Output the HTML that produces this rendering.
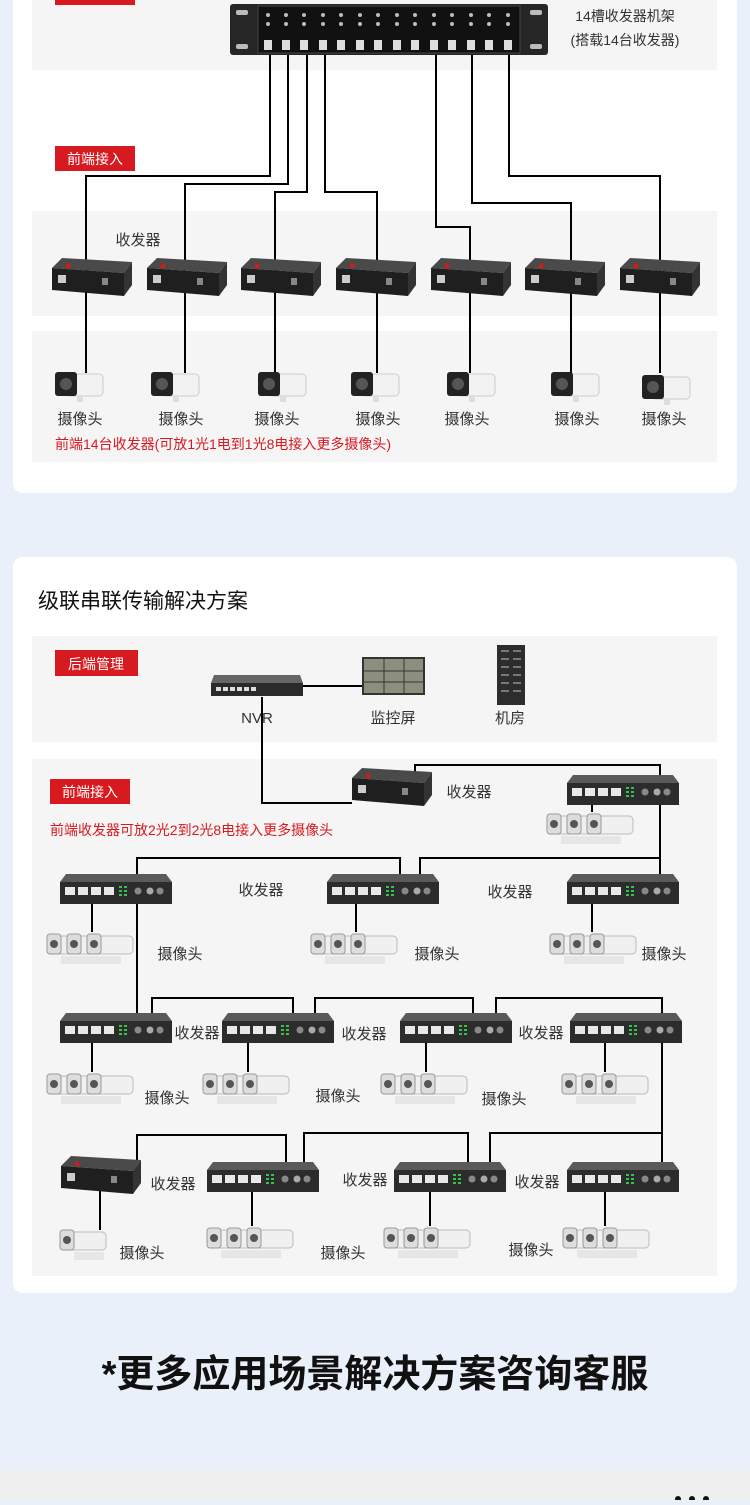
<!DOCTYPE html>
<html><head><meta charset="utf-8"><style>
html,body{margin:0;padding:0;}
body{width:750px;height:1500px;background:#e9f0f9;overflow:hidden;font-family:"Liberation Sans","Noto Sans CJK SC",sans-serif;}
svg text{font-family:"Liberation Sans","Noto Sans CJK SC",sans-serif;}
</style></head><body>
<svg width="750" height="1500" viewBox="0 0 750 1500" xmlns="http://www.w3.org/2000/svg">
<defs>
<g id="sw">
<polygon points="6,0 106,0 112,8 0,8" fill="#5a5a5a"/>
<rect x="0" y="8" width="112" height="22" fill="#2c2c2c"/>
<g fill="#e8e8e8"><rect x="5" y="13" width="10" height="8"/><rect x="18" y="13" width="10" height="8"/><rect x="31" y="13" width="10" height="8"/><rect x="44" y="13" width="10" height="8"/></g>
<g fill="#39c24a"><rect x="59" y="12" width="3" height="2"/><rect x="59" y="16" width="3" height="2"/><rect x="59" y="20" width="3" height="2"/><rect x="64" y="12" width="3" height="2"/><rect x="64" y="16" width="3" height="2"/><rect x="64" y="20" width="3" height="2"/></g>
<circle cx="78" cy="17" r="3.5" fill="#888"/><circle cx="90" cy="17" r="3.5" fill="#aaa"/><circle cx="100" cy="17" r="3.5" fill="#888"/>
</g>
<g id="tr">
<polygon points="10,0 80,4 72,15 0,10" fill="#4a4a4a"/>
<polygon points="0,10 72,15 72,38 0,32" fill="#1f1f1f"/>
<polygon points="72,15 80,4 80,27 72,38" fill="#333"/>
<circle cx="16" cy="8" r="2.5" fill="#d21b1b"/>
<rect x="6" y="17" width="8" height="8" fill="#ccc"/><rect x="50" y="20" width="6" height="7" fill="#888"/>
</g>
<g id="cam">
<rect x="10" y="2" width="38" height="22" rx="4" fill="#f2f2f2" stroke="#ccc"/>
<rect x="0" y="0" width="22" height="24" rx="3" fill="#222"/>
<circle cx="11" cy="12" r="6" fill="#555"/>
<rect x="22" y="24" width="6" height="6" fill="#ddd"/>
</g>
<g id="cam3">
<g transform="translate(0,0)"><rect x="6" y="4" width="40" height="18" rx="4" fill="#f0f0f0" stroke="#bbb"/><rect x="0" y="2" width="14" height="20" rx="3" fill="#ddd" stroke="#999"/><circle cx="7" cy="12" r="4" fill="#555"/></g>
<g transform="translate(20,0)"><rect x="6" y="4" width="40" height="18" rx="4" fill="#f0f0f0" stroke="#bbb"/><rect x="0" y="2" width="14" height="20" rx="3" fill="#ddd" stroke="#999"/><circle cx="7" cy="12" r="4" fill="#555"/></g>
<g transform="translate(40,0)"><rect x="6" y="4" width="40" height="18" rx="4" fill="#f0f0f0" stroke="#bbb"/><rect x="0" y="2" width="14" height="20" rx="3" fill="#ddd" stroke="#999"/><circle cx="7" cy="12" r="4" fill="#555"/></g>
<rect x="14" y="24" width="60" height="8" fill="#e6e6e6"/>
</g>
</defs>

<!-- card 1 -->
<rect x="13" y="-20" width="724" height="513" rx="10" fill="#fff"/>
<rect x="32" y="0" width="685" height="70" fill="#f5f5f5"/>
<rect x="32" y="211" width="685" height="105" fill="#f5f5f5"/>
<rect x="32" y="331" width="685" height="131" fill="#f5f5f5"/>
<rect x="55" y="0" width="80" height="5" fill="#d71920"/>

<!-- rack -->
<rect x="230" y="4" width="318" height="51" rx="3" fill="#262626"/>
<g fill="#111" stroke="#444">
<rect x="258" y="6" width="262" height="47"/>
</g>
<g fill="#ddd">
<rect x="264" y="40" width="8" height="10"/><rect x="282" y="40" width="8" height="10"/><rect x="300" y="40" width="8" height="10"/><rect x="319" y="40" width="8" height="10"/><rect x="337" y="40" width="8" height="10"/><rect x="356" y="40" width="8" height="10"/><rect x="374" y="40" width="8" height="10"/><rect x="393" y="40" width="8" height="10"/><rect x="411" y="40" width="8" height="10"/><rect x="430" y="40" width="8" height="10"/><rect x="448" y="40" width="8" height="10"/><rect x="467" y="40" width="8" height="10"/><rect x="485" y="40" width="8" height="10"/><rect x="504" y="40" width="8" height="10"/>
</g>
<g fill="#bbb">
<circle cx="268" cy="15" r="2"/><circle cx="286" cy="15" r="2"/><circle cx="304" cy="15" r="2"/><circle cx="323" cy="15" r="2"/><circle cx="341" cy="15" r="2"/><circle cx="360" cy="15" r="2"/><circle cx="378" cy="15" r="2"/><circle cx="397" cy="15" r="2"/><circle cx="415" cy="15" r="2"/><circle cx="434" cy="15" r="2"/><circle cx="452" cy="15" r="2"/><circle cx="471" cy="15" r="2"/><circle cx="489" cy="15" r="2"/><circle cx="508" cy="15" r="2"/>
<circle cx="268" cy="24" r="2"/><circle cx="286" cy="24" r="2"/><circle cx="304" cy="24" r="2"/><circle cx="323" cy="24" r="2"/><circle cx="341" cy="24" r="2"/><circle cx="360" cy="24" r="2"/><circle cx="378" cy="24" r="2"/><circle cx="397" cy="24" r="2"/><circle cx="415" cy="24" r="2"/><circle cx="434" cy="24" r="2"/><circle cx="452" cy="24" r="2"/><circle cx="471" cy="24" r="2"/><circle cx="489" cy="24" r="2"/><circle cx="508" cy="24" r="2"/>
<rect x="236" y="10" width="12" height="5" rx="2"/><rect x="236" y="44" width="12" height="5" rx="2"/><rect x="530" y="10" width="12" height="5" rx="2"/><rect x="530" y="44" width="12" height="5" rx="2"/>
</g>
<text x="625" y="21" font-size="14" fill="#333" text-anchor="middle">14槽收发器机架</text>
<text x="625" y="45" font-size="14" fill="#333" text-anchor="middle">(搭载14台收发器)</text>

<rect x="55" y="146" width="80" height="25" fill="#d71920"/>
<text x="95" y="164" font-size="14" fill="#fff" text-anchor="middle">前端接入</text>
<text x="138" y="245" font-size="15" fill="#333" text-anchor="middle">收发器</text>

<g fill="none" stroke="#000" stroke-width="2">
<polyline points="270,55 270,176 86,176 86,373"/>
<polyline points="288,55 288,184 185,184 185,373"/>
<polyline points="307,55 307,192 275,192 275,373"/>
<polyline points="325,55 325,192 377,192 377,373"/>
<polyline points="436,55 436,227 470,227 470,373"/>
<polyline points="472,55 472,203 571,203 571,373"/>
<polyline points="509,55 509,176 660,176 660,373"/>
</g>
<use href="#tr" x="52" y="258"/><use href="#tr" x="147" y="258"/><use href="#tr" x="241" y="258"/><use href="#tr" x="336" y="258"/><use href="#tr" x="431" y="258"/><use href="#tr" x="525" y="258"/><use href="#tr" x="620" y="258"/>
<use href="#cam" x="55" y="372"/><use href="#cam" x="151" y="372"/><use href="#cam" x="258" y="372"/><use href="#cam" x="351" y="372"/><use href="#cam" x="447" y="372"/><use href="#cam" x="551" y="372"/><use href="#cam" x="642" y="375"/>
<g font-size="15" fill="#333" text-anchor="middle">
<text x="80" y="424">摄像头</text><text x="181" y="424">摄像头</text><text x="277" y="424">摄像头</text><text x="378" y="424">摄像头</text><text x="467" y="424">摄像头</text><text x="577" y="424">摄像头</text><text x="664" y="424">摄像头</text>
</g>
<text x="55" y="449" font-size="14" fill="#d71920">前端14台收发器(可放1光1电到1光8电接入更多摄像头)</text>

<!-- card 2 -->
<rect x="13" y="557" width="724" height="736" rx="10" fill="#fff"/>
<text x="38" y="608" font-size="21" fill="#111">级联串联传输解决方案</text>
<rect x="32" y="636" width="685" height="106" fill="#f5f5f5"/>
<rect x="32" y="759" width="685" height="517" fill="#f5f5f5"/>
<rect x="55" y="650" width="83" height="26" fill="#d71920"/>
<text x="96" y="669" font-size="14" fill="#fff" text-anchor="middle">后端管理</text>
<rect x="50" y="779" width="80" height="25" fill="#d71920"/>
<text x="90" y="797" font-size="14" fill="#fff" text-anchor="middle">前端接入</text>
<text x="50" y="835" font-size="14" fill="#d71920">前端收发器可放2光2到2光8电接入更多摄像头</text>

<!-- NVR, screen, rack -->
<polygon points="214,675 300,675 303,683 211,683" fill="#666"/>
<rect x="211" y="683" width="92" height="13" fill="#2a2a2a"/>
<g fill="#ddd"><rect x="216" y="687" width="5" height="4"/><rect x="223" y="687" width="5" height="4"/><rect x="230" y="687" width="5" height="4"/><rect x="237" y="687" width="5" height="4"/><rect x="244" y="687" width="5" height="4"/><rect x="251" y="687" width="5" height="4"/></g>
<rect x="362" y="657" width="63" height="38" fill="#333"/>
<rect x="364" y="659" width="59" height="34" fill="#8c8f7e"/>
<g stroke="#333" stroke-width="1"><line x1="384" y1="659" x2="384" y2="693"/><line x1="404" y1="659" x2="404" y2="693"/><line x1="364" y1="671" x2="423" y2="671"/><line x1="364" y1="682" x2="423" y2="682"/></g>
<rect x="497" y="645" width="28" height="60" fill="#2d2d2d"/>
<g fill="#777"><rect x="501" y="650" width="8" height="2"/><rect x="513" y="650" width="8" height="2"/><rect x="501" y="658" width="8" height="2"/><rect x="513" y="658" width="8" height="2"/><rect x="501" y="666" width="8" height="2"/><rect x="513" y="666" width="8" height="2"/><rect x="501" y="674" width="8" height="2"/><rect x="513" y="674" width="8" height="2"/><rect x="501" y="682" width="8" height="2"/><rect x="513" y="682" width="8" height="2"/><rect x="501" y="690" width="8" height="2"/><rect x="513" y="690" width="8" height="2"/></g>
<g font-size="15" fill="#333" text-anchor="middle">
<text x="257" y="723">NVR</text><text x="393" y="723">监控屏</text><text x="510" y="723">机房</text>
</g>

<g fill="none" stroke="#000" stroke-width="2">
<line x1="303" y1="686" x2="362" y2="686"/>
<polyline points="262,697 262,803 352,803"/>
<polyline points="415,775 415,765 660,765 660,776"/>
<polyline points="660,804 660,876"/>
<polyline points="420,876 420,858 660,858 660,876"/>
<polyline points="137,876 137,858 400,858 400,876"/>
<polyline points="137,904 137,1015"/>
<polyline points="152,1015 152,998 293,998 293,1015"/>
<polyline points="315,1015 315,998 473,998 473,1015"/>
<polyline points="496,1015 496,998 662,998 662,1015"/>
<polyline points="662,1043 662,1164"/>
<polyline points="490,1164 490,1133 662,1133"/>
<polyline points="304,1164 304,1133 468,1133 468,1164"/>
<polyline points="137,1160 137,1135 286,1135 286,1164"/>
<polyline points="100,1190 100,1230"/>
<line x1="92" y1="904" x2="92" y2="932"/><line x1="356" y1="904" x2="356" y2="932"/><line x1="592" y1="904" x2="592" y2="932"/>
<line x1="592" y1="804" x2="592" y2="812"/>
<line x1="92" y1="1043" x2="92" y2="1072"/><line x1="248" y1="1043" x2="248" y2="1072"/><line x1="426" y1="1043" x2="426" y2="1072"/><line x1="605" y1="1043" x2="605" y2="1072"/>
<line x1="252" y1="1192" x2="252" y2="1226"/><line x1="430" y1="1192" x2="430" y2="1226"/><line x1="605" y1="1192" x2="605" y2="1226"/>
</g>

<use href="#tr" x="352" y="768"/>
<use href="#sw" x="567" y="775"/>
<use href="#sw" x="60" y="874"/><use href="#sw" x="327" y="874"/><use href="#sw" x="567" y="874"/>
<use href="#sw" x="60" y="1013"/><use href="#sw" x="222" y="1013"/><use href="#sw" x="400" y="1013"/><use href="#sw" x="570" y="1013"/>
<use href="#tr" x="61" y="1156"/>
<use href="#sw" x="207" y="1162"/><use href="#sw" x="394" y="1162"/><use href="#sw" x="567" y="1162"/>

<use href="#cam3" x="547" y="812"/>
<use href="#cam3" x="47" y="932"/><use href="#cam3" x="311" y="932"/><use href="#cam3" x="550" y="932"/>
<use href="#cam3" x="47" y="1072"/><use href="#cam3" x="203" y="1072"/><use href="#cam3" x="381" y="1072"/><use href="#cam3" x="562" y="1072"/>
<use href="#cam3" x="207" y="1226"/><use href="#cam3" x="384" y="1226"/><use href="#cam3" x="563" y="1226"/>
<g transform="translate(60,1228)"><rect x="6" y="4" width="40" height="18" rx="4" fill="#f0f0f0" stroke="#bbb"/><rect x="0" y="2" width="14" height="20" rx="3" fill="#ddd" stroke="#999"/><circle cx="7" cy="12" r="4" fill="#555"/><rect x="14" y="24" width="30" height="8" fill="#e6e6e6"/></g>

<g font-size="15" fill="#333" text-anchor="middle">
<text x="469" y="797">收发器</text>
<text x="261" y="895">收发器</text><text x="510" y="897">收发器</text>
<text x="197" y="1038">收发器</text><text x="364" y="1039">收发器</text><text x="541" y="1038">收发器</text>
<text x="173" y="1189">收发器</text><text x="365" y="1185">收发器</text><text x="537" y="1187">收发器</text>
<text x="180" y="959">摄像头</text><text x="437" y="959">摄像头</text><text x="664" y="959">摄像头</text>
<text x="167" y="1103">摄像头</text><text x="338" y="1101">摄像头</text><text x="504" y="1104">摄像头</text>
<text x="142" y="1258">摄像头</text><text x="343" y="1258">摄像头</text><text x="531" y="1255">摄像头</text>
</g>

<text x="375" y="1387" font-size="38" font-weight="bold" fill="#111" text-anchor="middle">*更多应用场景解决方案咨询客服</text>
<rect x="0" y="1470" width="750" height="30" fill="#f0f0f0"/>
<circle cx="678" cy="1499" r="3" fill="#111"/><circle cx="692" cy="1499" r="3" fill="#111"/><circle cx="706" cy="1499" r="3" fill="#111"/>
</svg>
</body></html>
